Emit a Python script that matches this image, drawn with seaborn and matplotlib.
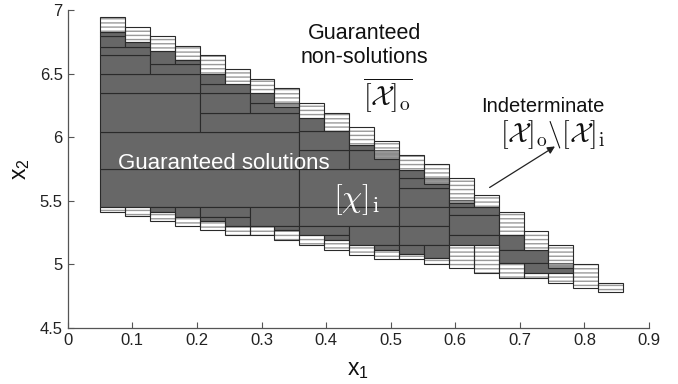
import matplotlib
matplotlib.use("Agg")
import matplotlib.pyplot as plt
import seaborn as sns
import numpy as np
import pandas as pd

# ---------------- data ----------------
x_start = 0.05
x_stop = 0.86
n_cols = 21

# per-column interval bounds (x2) of the paving
top_outer = [6.942, 6.869, 6.796, 6.720, 6.646, 6.534, 6.455, 6.384, 6.271, 6.193, 6.083,
             5.972, 5.860, 5.787, 5.677, 5.546, 5.414, 5.265, 5.152, 5.003, 4.856]
top_inner = [6.830, 6.751, 6.680, 6.607, 6.494, 6.420, 6.345, 6.240, 6.149, 6.051, 5.939,
             5.826, 5.743, 5.632, 5.480, 5.454, 5.231, 5.113, 4.969, 4.812, 4.781]
bot_inner = [5.449, 5.449, 5.414, 5.375, 5.340, 5.300, 5.300, 5.270, 5.231, 5.190, 5.152,
             5.113, 5.082, 5.048, 5.152, 5.152, 5.008, 4.930, 4.930, 4.812, 4.781]
bot_outer = [5.414, 5.380, 5.344, 5.300, 5.270, 5.230, 5.231, 5.190, 5.152, 5.113, 5.074,
             5.040, 5.040, 5.003, 4.969, 4.930, 4.891, 4.891, 4.856, 4.812, 4.781]

# inner (guaranteed-solution) boxes: first column, last column (exclusive), x2 low, x2 high
inner_c0 = [0, 0, 0, 4, 4, 6, 6, 4, 4, 0, 0, 2, 2, 3, 0, 0, 1, 0,
            2, 3, 4, 4, 5, 6, 7,
            8, 8, 8, 8, 10, 10, 12, 12, 12, 8, 8, 9, 10, 11, 12, 12, 12, 13,
            14, 14, 14, 14, 16, 16, 17]
inner_c1 = [8, 8, 4, 8, 6, 8, 7, 6, 5, 4, 2, 4, 3, 4, 2, 1, 2, 1,
            3, 4, 6, 5, 6, 8, 8,
            12, 10, 10, 9, 12, 11, 14, 14, 13, 12, 10, 10, 12, 12, 14, 14, 13, 14,
            16, 15, 16, 16, 17, 18, 19]
inner_lo = [5.449, 5.748, 6.043, 6.043, 6.193, 6.193, 6.266, 6.345, 6.420, 6.345, 6.494, 6.494,
            6.573, 6.573, 6.646, 6.712, 6.712, 6.796,
            5.414, 5.375, 5.375, 5.340, 5.300, 5.300, 5.270,
            5.449, 5.748, 5.899, 6.051, 5.748, 5.899, 5.449, 5.598, 5.677, 5.304, 5.231, 5.190,
            5.152, 5.113, 5.304, 5.152, 5.082, 5.048,
            5.388, 5.454, 5.231, 5.152, 5.113, 5.008, 4.930]
inner_hi = [5.748, 6.043, 6.345, 6.193, 6.345, 6.266, 6.345, 6.420, 6.494, 6.494, 6.646, 6.573,
            6.680, 6.607, 6.712, 6.796, 6.751, 6.830,
            5.449, 5.449, 5.449, 5.375, 5.375, 5.449, 5.300,
            5.748, 5.899, 6.051, 6.149, 5.899, 5.939, 5.598, 5.677, 5.743, 5.449, 5.304, 5.231,
            5.304, 5.152, 5.449, 5.304, 5.152, 5.152,
            5.454, 5.507, 5.388, 5.231, 5.231, 5.113, 5.008]

x_ticks = [0, 0.1, 0.2, 0.3, 0.4, 0.5, 0.6, 0.7, 0.8, 0.9]
x_tick_labels = ["0", "0.1", "0.2", "0.3", "0.4", "0.5", "0.6", "0.7", "0.8", "0.9"]
y_ticks = [4.5, 5, 5.5, 6, 6.5, 7]
y_tick_labels = ["4.5", "5", "5.5", "6", "6.5", "7"]

# ---------------- tables ----------------
w = (x_stop - x_start) / n_cols
col_left = [x_start + i * w for i in range(n_cols)]

inner = pd.DataFrame({"c0": inner_c0, "c1": inner_c1, "lo": inner_lo, "hi": inner_hi})
inner["left"] = [col_left[c] for c in inner["c0"]]
inner["width"] = (inner["c1"] - inner["c0"]) * w

upper = pd.DataFrame({"left": col_left, "lo": top_inner, "hi": top_outer})
lower = pd.DataFrame({"left": col_left, "lo": bot_outer, "hi": bot_inner})
bnd = pd.concat([upper, lower], ignore_index=True)
bnd = bnd[bnd["hi"] - bnd["lo"] > 1e-6]

# ---------------- style ----------------
sns.set_style("ticks", {"xtick.direction": "in", "ytick.direction": "in"})
plt.rcParams["font.family"] = ["Liberation Sans", "DejaVu Sans"]
plt.rcParams["hatch.linewidth"] = 1.0
plt.rcParams["mathtext.fontset"] = "custom"
plt.rcParams["mathtext.rm"] = "Liberation Sans"

fig = plt.figure(figsize=(6.78, 3.84), dpi=100)
ax = fig.add_axes([0.0999, 0.1458, 0.8574, 0.8282])

dark_face = "#676767"
edge = "#2a2a2a"

# inner boxes
ax.bar(inner["left"], inner["hi"] - inner["lo"], bottom=inner["lo"], width=inner["width"],
       align="edge", color=dark_face, edgecolor=edge, linewidth=0.8, zorder=2)

# boundary (indeterminate) boxes: hatched stripes then outline
ax.bar(bnd["left"], bnd["hi"] - bnd["lo"], bottom=bnd["lo"], width=w, align="edge",
       color=(1, 1, 1, 0.25), edgecolor="#9a9a9a", linewidth=0, hatch="----", zorder=3)
ax.bar(bnd["left"], bnd["hi"] - bnd["lo"], bottom=bnd["lo"], width=w, align="edge",
       fill=False, edgecolor=edge, linewidth=0.8, zorder=4)

ax.set_xlim(0, 0.9)
ax.set_ylim(4.5, 7)
ax.set_xticks(x_ticks)
ax.set_xticklabels(x_tick_labels)
ax.set_yticks(y_ticks)
ax.set_yticklabels(y_tick_labels)
ax.tick_params(axis="both", labelsize=12, colors="#555555", labelcolor="#222222",
               length=4, width=0.8, direction="in")
sns.despine(ax=ax)
for s in ("left", "bottom"):
    ax.spines[s].set_color("#555555")
    ax.spines[s].set_linewidth(0.9)

ax.set_xlabel(r"$\mathregular{x_1}$", fontsize=16.5, color="#111111", labelpad=7)
ax.set_ylabel(r"$\mathregular{x_2}$", fontsize=16.5, color="#111111", labelpad=6)

# annotations
ax.text(0.4594, 6.819, "Guaranteed", ha="center", va="center", fontsize=15.5, color="#111111")
ax.text(0.4594, 6.623, "non-solutions", ha="center", va="center", fontsize=15.5, color="#111111")
ax.text(0.4964, 6.332, r"$\overline{[\mathcal{X}]_{\rm o}}$", ha="center", va="center",
        fontsize=20, color="#111111", math_fontfamily="cm")
ax.text(0.736, 6.245, "Indeterminate", ha="center", va="center", fontsize=14.5, color="#111111")
ax.text(0.750, 6.017, r"$[\mathcal{X}]_{\rm o}\backslash[\mathcal{X}]_{\rm i}$", ha="center",
        va="center", fontsize=20, color="#111111", math_fontfamily="cm")
ax.text(0.078, 5.797, "Guaranteed solutions", ha="left", va="center", fontsize=16,
        color="white", zorder=6)
ax.text(0.4467, 5.506, r"$[\chi]_{\rm i}$", ha="center", va="center", fontsize=23,
        color="white", math_fontfamily="cm", zorder=6)
ax.annotate("", xy=(0.758, 5.939), xytext=(0.6495, 5.593),
            arrowprops=dict(arrowstyle="-|>", color="#222222", lw=0.9, mutation_scale=11))

fig.savefig("out.png", dpi=100)
